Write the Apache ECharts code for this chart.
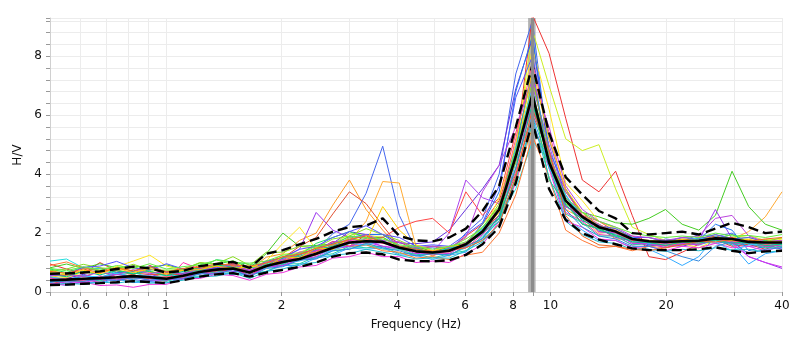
<!DOCTYPE html>
<html>
<head>
<meta charset="utf-8">
<script src="https://cdn.jsdelivr.net/npm/echarts@6/dist/echarts.min.js"></script>
<style>
  html, body { margin: 0; padding: 0; background: #fff; }
  #hv { width: 800px; height: 352px; }
</style>
</head>
<body>
<div id="hv"></div>
<script>
// frequency samples (Hz)
const freqs = [0.5, 0.552, 0.61, 0.674, 0.745, 0.823, 0.909, 1.004, 1.109, 1.225, 1.353, 1.495, 1.652, 1.825,
  2.016, 2.227, 2.46, 2.718, 3.002, 3.317, 3.664, 4.047, 4.471, 4.939, 5.457, 6.028, 6.659, 7.357, 8.127,
  8.978, 9.918, 10.957, 12.104, 13.372, 14.772, 16.319, 18.028, 19.916, 22.002, 24.306, 26.851, 29.663,
  32.769, 36.2, 40]

// average H/V and +/- std curves
const meanHV = [0.40, 0.42, 0.45, 0.47, 0.50, 0.54, 0.50, 0.45, 0.55, 0.68, 0.76, 0.80, 0.66, 0.88, 1.02, 1.12, 1.30, 1.50, 1.68, 1.72, 1.70, 1.50, 1.38, 1.34, 1.40, 1.62, 2.05, 2.80, 4.60, 6.70, 4.40, 3.10, 2.55, 2.20, 2.05, 1.80, 1.72, 1.70, 1.72, 1.74, 1.82, 1.80, 1.70, 1.68, 1.68]
const upperHV = [0.62, 0.63, 0.66, 0.70, 0.78, 0.86, 0.80, 0.66, 0.72, 0.88, 0.95, 1.02, 0.82, 1.30, 1.42, 1.62, 1.80, 2.05, 2.20, 2.25, 2.50, 1.90, 1.75, 1.72, 1.85, 2.15, 2.75, 3.60, 5.60, 7.70, 5.40, 3.90, 3.30, 2.75, 2.50, 2.00, 1.95, 2.00, 2.05, 1.95, 2.15, 2.35, 2.20, 2.00, 2.05]
const lowerHV = [0.24, 0.25, 0.28, 0.30, 0.33, 0.37, 0.34, 0.30, 0.40, 0.52, 0.60, 0.64, 0.52, 0.66, 0.75, 0.85, 1.00, 1.20, 1.32, 1.34, 1.28, 1.10, 1.05, 1.04, 1.08, 1.26, 1.62, 2.20, 3.70, 5.80, 3.50, 2.45, 2.00, 1.78, 1.62, 1.48, 1.42, 1.42, 1.42, 1.45, 1.52, 1.40, 1.32, 1.38, 1.40]

// individual time windows
const win01 = [0.95, 0.78, 0.62, 1.00, 0.72, 0.58, 0.90, 0.66, 0.55, 0.80, 0.72, 0.98, 0.62, 1.05, 0.95, 1.35, 1.40, 1.72, 1.55, 1.95, 1.65, 1.70, 1.42, 1.55, 1.45, 1.90, 2.30, 3.10, 4.80, 9.40, 8.10, 5.90, 3.80, 3.40, 4.10, 2.60, 1.20, 1.10, 1.35, 1.62, 1.78, 1.55, 1.62, 1.45, 1.65]
const win02 = [0.48, 0.62, 0.52, 0.70, 0.50, 0.58, 0.48, 0.66, 0.60, 0.88, 0.82, 1.02, 0.76, 1.18, 1.30, 1.75, 2.00, 2.95, 3.80, 2.80, 2.10, 1.50, 1.48, 1.22, 1.46, 1.55, 2.10, 2.60, 4.60, 6.80, 4.20, 3.10, 2.30, 2.20, 1.80, 1.78, 1.55, 1.70, 1.62, 1.88, 1.80, 1.95, 1.70, 1.78, 1.72]
const win03 = [0.38, 0.28, 0.44, 0.32, 0.50, 0.42, 0.36, 0.40, 0.46, 0.66, 0.62, 0.82, 0.55, 0.86, 0.92, 1.28, 1.42, 1.98, 2.30, 3.35, 4.95, 2.60, 1.45, 1.50, 1.38, 2.00, 2.50, 4.00, 7.40, 9.20, 4.60, 3.30, 2.40, 2.30, 1.90, 1.85, 1.62, 1.80, 1.72, 1.95, 1.88, 2.00, 1.62, 1.70, 1.50]
const win04 = [0.62, 0.50, 0.56, 0.42, 0.60, 0.55, 0.46, 0.52, 0.56, 0.76, 0.70, 0.92, 0.70, 1.02, 1.05, 1.28, 1.35, 1.68, 1.72, 2.40, 3.75, 3.70, 1.55, 1.38, 1.22, 1.58, 1.80, 2.60, 3.70, 5.60, 4.60, 2.80, 2.50, 2.00, 2.05, 1.68, 1.72, 1.55, 1.78, 1.72, 1.85, 1.80, 2.05, 2.55, 3.40]
const win05 = [0.74, 0.60, 0.68, 0.64, 0.86, 0.70, 0.72, 0.56, 0.76, 0.78, 0.92, 0.86, 0.86, 0.94, 1.28, 1.34, 1.58, 1.62, 1.98, 1.92, 1.86, 1.52, 1.46, 1.24, 1.46, 1.62, 2.30, 2.90, 4.80, 8.90, 7.00, 5.20, 4.80, 5.00, 3.50, 2.20, 1.95, 1.75, 1.78, 1.60, 1.85, 1.85, 1.92, 1.75, 1.82]
const win06 = [0.82, 0.95, 0.80, 0.96, 0.82, 0.88, 0.84, 0.92, 0.78, 0.98, 0.94, 1.06, 0.82, 1.30, 2.00, 1.55, 1.58, 1.62, 1.88, 1.82, 1.86, 1.55, 1.56, 1.36, 1.55, 1.65, 2.20, 2.80, 5.00, 7.40, 4.30, 3.40, 2.70, 2.55, 2.35, 2.30, 2.50, 2.80, 2.30, 2.10, 2.60, 4.10, 2.90, 2.30, 2.10]
const win07 = [0.42, 0.40, 0.55, 0.42, 0.60, 0.52, 0.60, 0.46, 0.64, 0.66, 0.86, 0.80, 0.74, 0.90, 1.18, 1.45, 2.70, 2.10, 1.85, 1.62, 1.68, 1.45, 1.46, 1.30, 1.44, 1.55, 2.10, 2.60, 4.90, 6.20, 4.60, 2.90, 2.60, 2.05, 2.00, 1.65, 1.70, 1.56, 1.75, 1.75, 2.80, 1.80, 1.20, 1.00, 0.80]
const win08 = [0.48, 0.46, 0.60, 0.46, 0.64, 0.50, 0.55, 0.40, 0.60, 0.60, 0.76, 0.70, 0.70, 0.86, 1.16, 1.25, 1.50, 1.65, 2.05, 1.95, 1.95, 1.66, 1.64, 1.70, 2.10, 2.80, 3.50, 4.30, 6.90, 8.60, 4.60, 3.10, 2.30, 2.15, 1.85, 1.74, 1.56, 1.60, 1.55, 1.70, 1.66, 1.70, 1.55, 1.60, 1.45]
const win09 = [0.32, 0.44, 0.40, 0.55, 0.42, 0.56, 0.40, 0.44, 0.46, 0.64, 0.66, 0.80, 0.56, 0.84, 0.90, 1.10, 1.15, 1.45, 1.55, 1.76, 1.55, 1.45, 1.25, 1.36, 2.00, 3.80, 3.20, 3.00, 4.50, 7.00, 5.00, 3.10, 2.70, 2.15, 2.05, 1.75, 1.75, 1.60, 1.75, 1.70, 1.85, 1.65, 1.65, 1.50, 1.65]
const win10 = [0.58, 0.56, 0.70, 0.82, 0.66, 0.64, 0.60, 0.58, 0.62, 0.84, 0.80, 0.96, 0.70, 1.06, 1.15, 1.55, 1.85, 2.65, 3.40, 3.00, 2.25, 1.55, 1.45, 1.30, 1.45, 1.55, 2.05, 2.60, 4.00, 6.00, 4.80, 2.90, 2.60, 2.15, 2.10, 1.75, 1.75, 1.65, 1.80, 1.75, 1.90, 1.75, 1.75, 1.60, 1.75]
const win11 = [0.28, 0.38, 0.36, 0.50, 0.38, 0.48, 0.46, 0.50, 0.52, 0.70, 0.66, 0.80, 0.56, 0.90, 0.96, 1.16, 1.25, 1.56, 1.55, 1.76, 1.85, 2.20, 2.40, 2.50, 2.00, 3.40, 2.60, 3.20, 5.40, 7.40, 4.40, 3.50, 2.60, 2.40, 2.05, 1.90, 1.70, 1.75, 1.70, 1.85, 1.80, 1.85, 1.70, 1.75, 1.65]
const win12 = [0.52, 0.50, 0.66, 0.64, 0.86, 1.05, 1.25, 0.88, 0.74, 0.76, 0.90, 0.86, 0.80, 1.05, 1.65, 2.20, 1.45, 1.46, 1.44, 1.66, 1.45, 1.45, 1.25, 1.30, 1.30, 1.65, 2.00, 3.20, 5.00, 8.30, 6.20, 3.70, 3.10, 2.40, 2.15, 1.75, 1.75, 1.60, 1.65, 1.50, 1.75, 1.75, 1.80, 1.65, 1.80]
const win13 = [1.05, 1.12, 0.82, 0.80, 0.62, 0.66, 0.50, 0.56, 0.56, 0.76, 0.76, 0.90, 0.66, 0.95, 0.96, 1.15, 1.16, 1.40, 1.46, 1.60, 1.46, 1.45, 1.26, 1.30, 1.26, 1.50, 1.75, 2.50, 3.50, 5.10, 4.50, 3.10, 2.70, 2.15, 2.05, 1.70, 1.75, 1.60, 1.75, 1.70, 1.85, 1.70, 1.70, 1.55, 1.65]
const win14 = [0.32, 0.22, 0.34, 0.30, 0.44, 0.32, 0.34, 0.30, 0.50, 0.50, 0.66, 0.60, 0.60, 0.70, 0.90, 0.90, 1.15, 1.25, 1.50, 1.45, 1.50, 1.26, 1.24, 1.10, 1.25, 1.35, 1.85, 2.40, 4.40, 6.00, 4.30, 2.50, 2.10, 1.75, 1.75, 1.50, 1.45, 1.20, 0.90, 1.20, 1.90, 1.60, 0.95, 1.30, 1.40]
const win15 = [0.42, 0.40, 0.55, 0.50, 0.66, 0.70, 0.88, 0.66, 0.64, 0.66, 0.80, 0.76, 0.70, 0.86, 1.10, 1.10, 1.40, 1.50, 1.85, 1.95, 1.95, 1.55, 1.45, 1.30, 1.50, 1.65, 2.30, 3.40, 6.80, 8.70, 4.80, 3.50, 2.50, 2.25, 1.90, 1.80, 1.60, 1.65, 1.60, 1.75, 2.30, 2.10, 1.40, 1.55, 1.60]
const win16 = [0.26, 0.24, 0.34, 0.22, 0.24, 0.16, 0.26, 0.26, 0.44, 0.46, 0.60, 0.56, 0.40, 0.60, 0.66, 0.85, 0.90, 1.15, 1.20, 1.35, 1.20, 1.20, 1.00, 1.05, 1.00, 1.30, 1.60, 2.40, 3.70, 5.80, 4.20, 2.40, 2.20, 1.80, 1.75, 1.50, 1.55, 1.40, 1.55, 1.50, 1.65, 1.50, 1.55, 1.40, 1.55]
const win17 = [0.48, 0.36, 0.40, 0.36, 0.50, 0.46, 0.50, 0.36, 1.00, 0.78, 0.78, 0.82, 0.74, 0.86, 1.10, 1.15, 1.40, 1.50, 1.75, 1.70, 1.75, 1.50, 1.45, 1.25, 1.40, 1.50, 1.95, 2.50, 4.10, 6.40, 4.60, 2.70, 2.40, 1.95, 1.90, 1.60, 1.65, 1.55, 1.70, 1.65, 1.80, 1.65, 1.70, 1.55, 1.60]
const win18 = [0.78, 0.66, 0.84, 0.70, 0.76, 0.60, 0.76, 0.70, 0.76, 0.80, 1.10, 1.02, 0.94, 0.96, 1.20, 1.25, 1.65, 1.85, 2.05, 1.85, 1.75, 1.45, 1.45, 1.30, 1.50, 1.60, 2.10, 2.50, 4.60, 6.60, 3.80, 3.00, 2.30, 2.15, 1.90, 1.80, 1.65, 1.70, 1.65, 1.80, 1.80, 1.95, 1.70, 1.75, 1.60]
const win19 = [0.36, 0.34, 0.44, 0.38, 0.50, 0.44, 0.50, 0.36, 0.52, 0.54, 0.70, 0.66, 0.60, 0.70, 0.95, 0.96, 1.20, 1.30, 1.55, 1.50, 1.55, 1.30, 1.30, 1.15, 1.30, 1.40, 1.90, 2.40, 3.90, 5.70, 4.30, 2.65, 2.35, 1.90, 1.90, 1.60, 1.65, 1.50, 1.65, 1.60, 1.75, 1.60, 1.65, 1.50, 1.55]
const win20 = [0.90, 1.02, 0.82, 0.74, 0.72, 0.84, 0.66, 0.64, 0.72, 0.90, 0.86, 0.90, 0.66, 1.00, 1.05, 1.30, 1.35, 1.60, 1.55, 1.60, 1.40, 1.35, 1.15, 1.20, 1.10, 1.25, 1.35, 2.00, 3.30, 5.30, 3.90, 2.10, 1.75, 1.50, 1.55, 1.40, 1.55, 1.50, 1.70, 1.70, 1.85, 1.70, 1.75, 1.60, 1.75]
const win21 = [0.72, 0.78, 0.94, 0.82, 0.78, 0.94, 0.76, 0.74, 0.76, 1.00, 0.96, 1.20, 0.90, 1.35, 1.35, 1.55, 1.50, 1.80, 1.90, 2.15, 1.95, 1.75, 1.50, 1.55, 1.50, 1.80, 2.15, 3.00, 4.40, 7.20, 4.80, 3.00, 2.70, 2.25, 2.15, 1.85, 1.85, 1.70, 1.85, 1.80, 1.95, 1.80, 1.85, 1.70, 1.85]
const win22 = [0.56, 0.58, 0.84, 0.88, 1.04, 0.82, 0.74, 0.96, 0.78, 0.74, 0.82, 0.94, 0.72, 1.05, 1.15, 1.45, 1.55, 1.85, 2.05, 2.25, 1.95, 1.85, 1.55, 1.60, 1.55, 1.95, 2.35, 3.60, 6.60, 8.00, 5.20, 3.20, 2.70, 2.25, 2.15, 1.85, 1.85, 1.70, 1.85, 1.80, 1.95, 1.80, 1.85, 1.70, 1.75]
const win23 = [0.26, 0.34, 0.32, 0.44, 0.40, 0.50, 0.40, 0.42, 0.46, 0.64, 0.62, 0.76, 0.56, 0.84, 0.90, 1.10, 1.20, 1.50, 1.55, 1.70, 1.55, 1.50, 1.30, 1.35, 1.30, 1.65, 1.95, 2.80, 4.20, 6.60, 4.80, 2.90, 2.55, 2.05, 2.00, 1.65, 1.65, 1.50, 1.65, 1.60, 1.80, 1.65, 1.20, 1.00, 0.85]
const win24 = [0.52, 0.42, 0.54, 0.50, 0.64, 0.52, 0.54, 0.42, 0.58, 0.62, 0.80, 0.76, 0.68, 0.82, 1.05, 1.05, 1.30, 1.40, 1.65, 1.60, 1.75, 1.45, 1.45, 1.30, 1.50, 1.60, 2.15, 2.80, 4.90, 6.90, 4.20, 3.30, 2.50, 2.30, 2.00, 1.85, 1.65, 1.75, 1.70, 1.85, 1.70, 1.40, 1.60, 1.65, 1.70]
const win25 = [0.40, 0.46, 0.38, 0.52, 0.44, 0.58, 0.48, 0.52, 0.50, 0.74, 0.70, 0.88, 0.62, 0.92, 1.00, 1.22, 1.30, 1.60, 1.65, 1.80, 1.65, 1.55, 1.35, 1.40, 1.35, 1.70, 2.05, 2.90, 5.20, 7.80, 5.40, 3.40, 2.60, 2.30, 2.00, 1.75, 1.70, 1.62, 1.72, 1.68, 1.80, 1.70, 1.72, 1.60, 1.68]
const win26 = [0.60, 0.52, 0.70, 0.58, 0.72, 0.62, 0.70, 0.55, 0.70, 0.72, 0.92, 0.84, 0.82, 0.90, 1.15, 1.20, 1.45, 1.55, 1.80, 1.75, 1.70, 1.50, 1.50, 1.32, 1.48, 1.58, 2.00, 2.50, 4.20, 6.40, 4.50, 2.95, 2.45, 2.10, 1.95, 1.70, 1.68, 1.58, 1.70, 1.66, 1.76, 1.66, 1.70, 1.58, 1.62]
const win27 = [0.34, 0.38, 0.36, 0.46, 0.38, 0.50, 0.40, 0.46, 0.44, 0.62, 0.60, 0.76, 0.52, 0.80, 0.86, 1.08, 1.12, 1.40, 1.45, 1.65, 1.50, 1.40, 1.22, 1.30, 1.25, 1.55, 1.80, 2.60, 4.80, 7.60, 4.40, 2.80, 2.20, 1.90, 1.80, 1.55, 1.55, 1.40, 1.20, 1.05, 1.55, 1.70, 1.30, 1.45, 1.50]
const win28 = [0.55, 0.60, 0.52, 0.68, 0.58, 0.76, 0.62, 0.70, 0.60, 0.80, 0.76, 0.95, 0.72, 1.00, 1.10, 1.35, 1.40, 1.70, 1.75, 1.95, 1.75, 1.70, 1.50, 1.55, 1.50, 1.85, 3.40, 4.30, 5.60, 7.20, 5.60, 3.60, 2.80, 2.40, 2.20, 1.90, 1.85, 1.75, 1.85, 1.90, 2.50, 2.60, 1.90, 1.70, 1.75]
const win29 = [0.66, 0.58, 0.74, 0.62, 0.80, 0.66, 0.80, 0.62, 0.74, 0.76, 0.88, 0.80, 0.86, 0.84, 1.20, 1.15, 1.50, 1.45, 1.85, 1.70, 2.90, 2.10, 1.60, 1.40, 1.55, 1.60, 2.05, 2.70, 4.50, 7.60, 5.20, 3.50, 2.70, 2.20, 2.05, 1.80, 1.75, 1.70, 1.78, 1.74, 1.82, 1.76, 1.78, 1.70, 1.72]
const win30 = [0.80, 0.72, 0.86, 0.74, 0.90, 0.80, 0.96, 0.78, 0.86, 0.92, 1.08, 1.00, 0.98, 1.05, 1.25, 1.30, 1.55, 1.60, 1.90, 1.85, 1.80, 1.60, 1.55, 1.45, 1.55, 1.70, 2.20, 2.90, 4.80, 6.80, 4.60, 3.20, 2.70, 2.40, 2.20, 2.00, 1.90, 1.85, 1.90, 1.85, 2.00, 1.90, 1.92, 1.85, 1.95]
const win31 = [0.22, 0.30, 0.26, 0.34, 0.30, 0.38, 0.30, 0.32, 0.40, 0.52, 0.54, 0.66, 0.46, 0.70, 0.78, 0.95, 1.00, 1.25, 1.30, 1.45, 1.35, 1.25, 1.12, 1.16, 1.15, 1.40, 1.70, 2.30, 3.80, 5.90, 3.90, 2.40, 1.95, 1.70, 1.65, 1.45, 1.45, 1.38, 1.45, 1.40, 1.50, 1.42, 1.45, 1.35, 1.40]
const win32 = [0.70, 0.64, 0.78, 0.66, 0.82, 0.72, 0.86, 0.68, 0.80, 0.84, 0.94, 0.92, 0.88, 0.98, 1.20, 1.28, 1.48, 1.62, 1.78, 1.90, 1.70, 1.55, 1.45, 1.38, 1.42, 1.50, 1.75, 2.30, 3.90, 6.20, 4.80, 2.60, 1.90, 1.60, 1.55, 1.45, 1.40, 1.50, 1.60, 1.72, 1.70, 1.78, 1.72, 1.80, 1.85]

const windows = [win01, win02, win03, win04, win05, win06, win07, win08, win09, win10, win11, win12,
  win13, win14, win15, win16, win17, win18, win19, win20, win21, win22, win23, win24,
  win25, win26, win27, win28, win29, win30, win31, win32]
const windowColors = ['#ee3333', '#ff9922', '#4466ee', '#ffaa33', '#ccee22', '#44cc22', '#9933ee', '#6633dd',
  '#aa44ee', '#e05030', '#ff4444', '#ffe622', '#22dddd', '#33aaff', '#2277ee', '#ee33dd',
  '#ff33aa', '#22dd66', '#22ccaa', '#ff7733', '#88dd22', '#5555ff', '#cc33ee', '#33ccff',
  '#ff5588', '#00cc88', '#3388dd', '#bb44dd', '#ffcc00', '#66ee44', '#22bbcc', '#ee6622']

// peak frequency band
const peakBand = [8.75, 9.15]
const peakFreq = 8.95

const xTicks = [0.5, 0.6, 0.7, 0.8, 0.9, 1, 2, 3, 4, 5, 6, 7, 8, 9, 10, 20, 30, 40]
const xLabels = [0.6, 0.8, 1, 2, 4, 6, 8, 10, 20, 40]

const font = 'DejaVu Sans'
const pts = (vals) => freqs.map((f, i) => [f, vals[i]])

const series = windows.map((w, i) => ({
  type: 'line',
  data: pts(w),
  showSymbol: false,
  silent: true,
  z: 2,
  lineStyle: { width: 1, color: windowColors[i] },
}))

series.push(
  { type: 'line', data: pts(upperHV), showSymbol: false, silent: true, z: 3,
    lineStyle: { width: 2.4, color: '#000', type: [10, 5] } },
  { type: 'line', data: pts(lowerHV), showSymbol: false, silent: true, z: 3,
    lineStyle: { width: 2.4, color: '#000', type: [10, 5] } },
  { type: 'line', data: pts(meanHV), showSymbol: false, silent: true, z: 4,
    lineStyle: { width: 2.6, color: '#000' } },
  {
    type: 'line', data: [], z: 5, silent: true,
    markArea: {
      silent: true,
      itemStyle: { color: 'rgba(165,165,165,0.85)' },
      data: [[{ xAxis: peakBand[0] }, { xAxis: peakBand[1] }]],
    },
    markLine: {
      silent: true, symbol: 'none', label: { show: false },
      lineStyle: { color: '#8c8c8c', width: 3, type: 'solid' },
      data: [{ xAxis: peakFreq }],
    },
  },
)

const chart = echarts.init(document.getElementById('hv'))
chart.setOption({
  animation: false,
  grid: { left: 50, right: 18, top: 18, bottom: 60 },
  xAxis: {
    type: 'log',
    logBase: 10,
    min: 0.5,
    max: 40,
    name: 'Frequency (Hz)',
    nameLocation: 'middle',
    nameGap: 27,
    nameTextStyle: { fontFamily: font, fontSize: 12, color: '#111' },
    axisLine: { show: true, lineStyle: { color: '#d0d0d0' } },
    axisTick: { show: true, customValues: xTicks, length: 4, lineStyle: { color: '#999' } },
    axisLabel: { customValues: xLabels, fontFamily: font, fontSize: 12, color: '#111', margin: 8 },
    splitLine: { show: true, lineStyle: { color: '#ececec', width: 1 } },
    minorTick: { show: false },
  },
  yAxis: {
    type: 'value',
    min: 0,
    max: 9.3,
    interval: 0.4,
    name: 'H/V',
    nameLocation: 'middle',
    nameGap: 17,
    nameTextStyle: { fontFamily: font, fontSize: 12, color: '#111' },
    axisLine: { show: true, lineStyle: { color: '#d0d0d0' } },
    axisTick: { show: true, length: 4, lineStyle: { color: '#999' } },
    axisLabel: {
      fontFamily: font, fontSize: 12, color: '#111', margin: 8,
      formatter: (v) => (Math.abs(v / 2 - Math.round(v / 2)) < 1e-6 ? String(Math.round(v)) : ''),
    },
    splitLine: { show: true, lineStyle: { color: '#ececec', width: 1 } },
  },
  series,
})
</script>
</body>
</html>
